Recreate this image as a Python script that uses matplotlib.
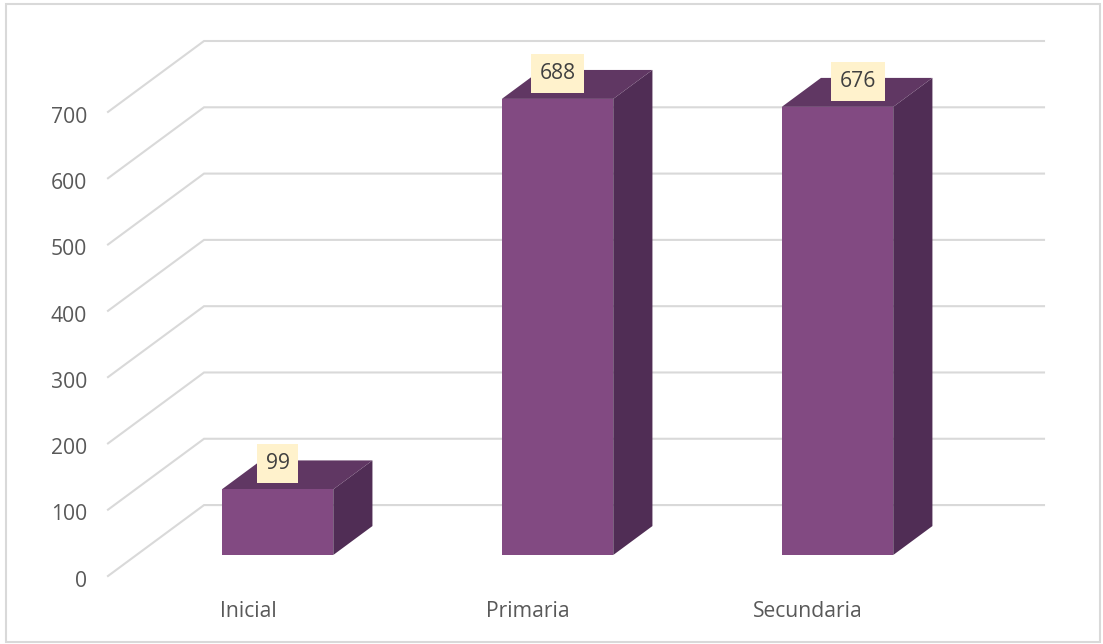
import matplotlib
matplotlib.use('Agg')
import matplotlib.pyplot as plt
from matplotlib.patches import Polygon, Rectangle
from matplotlib.transforms import ScaledTranslation

categories = ['Inicial', 'Primaria', 'Secundaria']
values = [99, 688, 676]
yTicks = [0, 100, 200, 300, 400, 500, 600, 700]

# oblique 3d look, depth goes from 0 (front of floor) to 1 (back wall)
depthX = 0.343  # in category units
depthY = 107.  # in value units
barWidth = 0.398
barShift = 0.004
barDepth = (0.296, 0.704)
labelShift = [0, 0, 15]  # the last label sits off center, in points

frontColor = '#824A82'
topColor = '#603763'
sideColor = '#502D55'
gridColor = '#D9D9D9'
textColor = '#595959'

plt.rcParams['font.family'] = ['Open Sans', 'DejaVu Sans']

def project(x, v, d):
    return x + d*depthX, v + d*depthY

W, H = 1103, 644
fig = plt.figure(figsize = (W/100, H/100), dpi = 100)
ax = fig.add_axes([108/W, 1-576/H, (1044-108)/W, (576-41)/H])
ax.set_xlim(-0.5, 2.5+depthX)
ax.set_ylim(0, 700+depthY)
ax.patch.set_visible(False)
for spine in ax.spines.values():
    spine.set_visible(False)

for v in yTicks:
    ax.plot([-0.5, -0.5+depthX, 2.5+depthX], [v, v+depthY, v+depthY], color = gridColor, lw = 1.5, clip_on = False, zorder = 1, solid_joinstyle = 'miter')

for i, v in enumerate(values):
    left, right = i+barShift-barWidth/2, i+barShift+barWidth/2
    d0, d1 = barDepth
    front = [project(left, 0, d0), project(right, 0, d0), project(right, v, d0), project(left, v, d0)]
    top = [project(left, v, d0), project(right, v, d0), project(right, v, d1), project(left, v, d1)]
    side = [project(right, 0, d0), project(right, 0, d1), project(right, v, d1), project(right, v, d0)]
    ax.add_patch(Polygon(side, closed = True, facecolor = sideColor, edgecolor = 'none', zorder = 2))
    ax.add_patch(Polygon(top, closed = True, facecolor = topColor, edgecolor = 'none', zorder = 2))
    ax.add_patch(Polygon(front, closed = True, facecolor = frontColor, edgecolor = 'none', zorder = 3))
    labelPos = project(i+barShift, v, d0)
    ax.annotate(str(v), labelPos, xytext = (labelShift[i], 18.5), textcoords = 'offset points', ha = 'center', va = 'center', fontsize = 15.2, color = '#404040', zorder = 5,
                bbox = dict(boxstyle = 'square,pad=0.42', facecolor = '#FFF2CC', edgecolor = 'none'))

ax.set_yticks(yTicks)
ax.set_xticks(range(len(categories)))
ax.set_xticklabels(categories)
ax.tick_params(axis = 'both', length = 0, colors = textColor, labelsize = 15.2)
ax.tick_params(axis = 'y', pad = 15)
ax.tick_params(axis = 'x', pad = 18)
for label in ax.get_yticklabels():
    label.set_transform(label.get_transform() + ScaledTranslation(0, -2/72, fig.dpi_scale_trans))

fig.add_artist(Rectangle((6/W, 1-642/H), (1100-6)/W, (642-4)/H, transform = fig.transFigure, facecolor = 'none', edgecolor = gridColor, lw = 1.5))
plt.savefig('out.png', dpi = 100)
